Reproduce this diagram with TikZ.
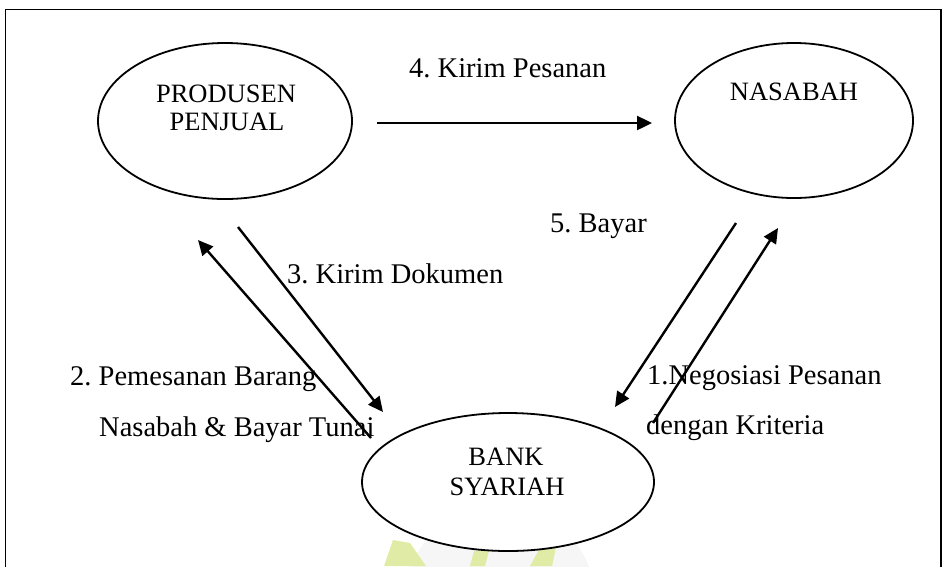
\documentclass[tikz,border=0pt]{standalone}
\usepackage{fontspec}
\setmainfont{Liberation Serif}
\usetikzlibrary{shapes.geometric,arrows.meta}
\definecolor{wmgreen}{RGB}{224,235,166}
\definecolor{wmgrey}{RGB}{246,246,246}
\frenchspacing
\begin{document}
\begin{tikzpicture}[x=1pt,y=-1pt,
  oval/.style={ellipse,draw,line width=1.8pt,fill=white,inner sep=0pt},
  ntext/.style={font=\fontsize{26.5}{30}\selectfont,inner sep=0pt,anchor=base},
  lbl/.style={font=\fontsize{28.5}{32}\selectfont,inner sep=0pt,anchor=base west},
  flow/.style={line width=2.4pt,-{Triangle[length=15pt,width=14pt]}},
  wm/.style={fill=wmgreen,draw=none}]
\useasboundingbox (0,0) rectangle (944,566);
\clip (0,0) rectangle (944,566);
% frame
\draw[line width=1.4pt] (5.5,9.5) rectangle (941,640);
% faint watermark
\fill[wmgrey] (500,600) circle[radius=95pt];
\fill[wm] (384,566) -- (393,540) -- (410,543) -- (426,566) -- cycle;
\fill[wm] (470,566) -- (474,551) -- (489,551) -- (485,566) -- cycle;
\fill[wm] (530,566) -- (545,539) -- (557,543) -- (552,566) -- cycle;
% ellipses
\node[oval,minimum width=254pt,minimum height=156pt] (prod) at (225,121) {};
\node[oval,minimum width=238pt,minimum height=155pt] (nasabah) at (794,120.5) {};
\node[oval,minimum width=292pt,minimum height=138pt] (bank) at (508,482) {};
% ellipse texts
\node[ntext] (prod1) at (226,102) {PRODUSEN};
\node[ntext] (prod2) at (227,130) {PENJUAL};
\node[ntext] (nas1) at (794,100) {NASABAH};
\node[ntext] (bank1) at (506,465) {BANK};
\node[ntext] (bank2) at (507,495) {SYARIAH};
% labels
\node[lbl] (l4) at (409,77) {4. Kirim Pesanan};
\node[lbl] (l5) at (550,232) {5. Bayar};
\node[lbl] (l3) at (287,283) {3. Kirim Dokumen};
\node[lbl] (l2a) at (70,385) {2. Pemesanan Barang};
\node[lbl] (l2b) at (99,436) {Nasabah \& Bayar Tunai};
\node[lbl] (l1a) at (647,384) {1.Negosiasi Pesanan};
\node[lbl] (l1b) at (646,434) {dengan Kriteria};
% arrow end points
\coordinate (a4s) at (377,123); \coordinate (a4e) at (652,123);
\coordinate (a5s) at (736,223); \coordinate (a5e) at (615,407);
\coordinate (a1s) at (653,423); \coordinate (a1e) at (778,228);
\coordinate (a3s) at (238,227); \coordinate (a3e) at (383,412);
\coordinate (a2s) at (371,438); \coordinate (a2e) at (198,240);
% arrows
\draw[flow] (a4s) -- (a4e);
\draw[flow] (a5s) -- (a5e);
\draw[flow] (a1s) -- (a1e);
\draw[flow] (a3s) -- (a3e);
\draw[flow] (a2s) -- (a2e);
\end{tikzpicture}
\end{document}
